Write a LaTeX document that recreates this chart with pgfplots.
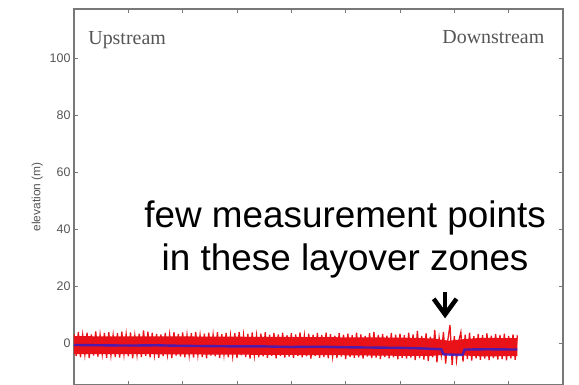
\documentclass[border=0pt]{standalone}
\usepackage{pgfplots}
\pgfplotsset{compat=1.18}
\usepackage{fontspec}
\setmainfont{Liberation Sans}
\newfontfamily\seriffont{Liberation Serif}
\definecolor{band}{RGB}{232,18,24}
\definecolor{mean}{RGB}{40,30,210}
\definecolor{frame}{RGB}{120,120,120}
\definecolor{lbl}{RGB}{85,85,85}
\begin{document}
\begin{tikzpicture}
\useasboundingbox (-74bp,0) rectangle (505bp,385bp);
\begin{axis}[
  at={(0,0)}, anchor=south west,
  scale only axis, width=489bp, height=376bp,
  xmin=0, xmax=9, ymin=-14.74, ymax=117.2,
  xtick={0,...,9}, xticklabels={},
  ytick={0,20,40,60,80,100},
  tick align=inside, major tick length=4bp,
  axis line style={draw=frame, line width=1.2bp},
  every tick/.style={draw=frame, line width=0.8bp},
  /pgf/number format/assume math mode=true,
  yticklabel style={font=\fontsize{12.5}{12.5}\selectfont, text=lbl},
  ylabel={elevation (m)},
  ylabel style={font=\fontsize{12}{12}\selectfont, text=lbl},
  clip=true,
]
% dense core of the elevation samples
\addplot[fill=band, draw=none] coordinates {
(0,2.4)(1,2.3)(2,2.3)(3,2.2)(4,2.1)(5,2.0)(6,1.9)(6.6,1.6)(6.9,0.8)(7.2,1.4)(7.5,1.8)(8.16,1.7)
(8.16,-4.6)(7.5,-4.7)(7.2,-4.4)(6.9,-4.0)(6.6,-4.5)(6,-4.5)(5,-4.3)(4,-4.2)(3,-4.1)(2,-4.0)(1,-3.9)(0,-3.9)
} -- cycle;
% individual elevation samples along the profile
\addplot[band, line width=1.3bp] coordinates {
(0.00,3.2)(0.04,-4.6)(0.08,3.9)(0.12,-5.0)(0.16,2.8)(0.20,-4.1)(0.24,3.6)(0.28,-5.3)(0.32,3.0)(0.36,-4.4)
(0.40,4.1)(0.44,-4.8)(0.48,2.9)(0.52,-3.9)(0.56,3.5)(0.60,-5.2)(0.64,3.8)(0.68,-4.3)(0.72,2.7)(0.76,-4.9)
(0.80,3.4)(0.84,-5.1)(0.88,4.0)(0.92,-4.0)(0.96,3.1)(1.00,-4.7)(1.04,3.7)(1.08,-5.4)(1.12,2.6)(1.16,-4.2)
(1.20,3.3)(1.24,-4.9)(1.28,4.4)(1.32,-4.5)(1.36,4.0)(1.40,-5.0)(1.44,3.6)(1.48,-4.1)(1.52,3.2)(1.56,-5.2)
(1.60,3.0)(1.64,-4.6)(1.68,3.5)(1.72,-4.0)(1.76,2.9)(1.80,-5.3)(1.84,3.8)(1.88,-4.4)(1.92,3.2)(1.96,-4.8)
(2.00,3.7)(2.04,-5.0)(2.08,2.8)(2.12,-4.3)(2.16,3.4)(2.20,-5.1)(2.24,3.9)(2.28,-4.2)(2.32,2.7)(2.36,-4.9)
(2.40,3.3)(2.44,-5.4)(2.48,3.6)(2.52,-4.4)(2.56,2.9)(2.60,-4.7)(2.64,3.8)(2.68,-5.2)(2.72,3.1)(2.76,-4.1)
(2.80,3.5)(2.84,-5.0)(2.88,2.6)(2.92,-4.6)(2.96,3.4)(3.00,-5.3)(3.04,3.9)(3.08,-4.3)(3.12,2.8)(3.16,-4.9)
(3.20,3.2)(3.24,-5.5)(3.28,3.7)(3.32,-4.4)(3.36,2.7)(3.40,-5.0)(3.44,3.3)(3.48,-4.7)(3.52,3.8)(3.56,-5.2)
(3.60,2.9)(3.64,-4.5)(3.68,3.5)(3.72,-5.4)(3.76,3.0)(3.80,-4.6)(3.84,3.6)(3.88,-5.1)(3.92,2.7)(3.96,-4.8)
(4.00,3.4)(4.04,-5.3)(4.08,3.0)(4.12,-4.5)(4.16,3.7)(4.20,-5.0)(4.24,2.6)(4.28,-4.7)(4.32,3.3)(4.36,-5.5)
(4.40,2.9)(4.44,-4.6)(4.48,3.5)(4.52,-5.2)(4.56,2.8)(4.60,-4.9)(4.64,3.6)(4.68,-5.4)(4.72,3.1)(4.76,-4.7)
(4.80,2.6)(4.84,-5.3)(4.88,3.4)(4.92,-4.8)(4.96,2.9)(5.00,-5.6)(5.04,3.3)(5.08,-4.9)(5.12,2.7)(5.16,-5.2)
(5.20,3.6)(5.24,-5.0)(5.28,3.0)(5.32,-5.5)(5.36,2.5)(5.40,-4.8)(5.44,3.4)(5.48,-5.3)(5.52,3.9)(5.56,-5.1)
(5.60,2.8)(5.64,-5.6)(5.68,3.2)(5.72,-4.9)(5.76,2.6)(5.80,-5.4)(5.84,3.5)(5.88,-5.0)(5.92,2.9)(5.96,-5.7)
(6.00,3.3)(6.04,-5.2)(6.08,2.7)(6.12,-5.5)(6.16,3.6)(6.20,-5.1)(6.24,3.0)(6.28,-6.0)(6.32,4.2)(6.36,-5.3)
(6.40,2.5)(6.44,-5.8)(6.48,3.4)(6.52,-6.3)(6.56,2.2)(6.60,-5.0)(6.64,4.6)(6.68,-6.8)(6.72,1.8)(6.76,-4.2)
(6.80,3.9)(6.84,-7.2)(6.88,1.0)(6.92,6.3)(6.96,-7.7)(7.00,2.4)(7.04,-6.1)(7.08,0.5)(7.12,3.8)(7.16,-6.5)
(7.20,2.9)(7.24,-5.6)(7.28,3.6)(7.32,-6.2)(7.36,2.4)(7.40,-5.4)(7.44,3.2)(7.48,-5.9)(7.52,2.7)(7.56,-5.5)
(7.60,3.4)(7.64,-6.0)(7.68,2.6)(7.72,-5.3)(7.76,3.1)(7.80,-5.8)(7.84,2.8)(7.88,-5.6)(7.92,3.3)(7.96,-6.1)
(8.00,2.5)(8.04,-5.4)(8.08,3.0)(8.12,-5.9)(8.16,2.7)
};
% smoothed profile
\addplot[mean, opacity=0.8, line width=2.4bp] coordinates {
(0,-0.7)(0.5,-0.8)(1,-0.9)(1.5,-0.8)(2,-1.0)(2.5,-1.1)(3,-1.2)(3.5,-1.2)(4,-1.4)(4.5,-1.3)
(5,-1.5)(5.5,-1.6)(6,-1.7)(6.4,-1.9)(6.76,-2.2)(6.80,-4.0)(7.15,-4.2)(7.19,-2.3)(7.6,-2.2)(8.16,-2.3)
};
\node[anchor=base west, text=lbl, font=\seriffont\fontsize{20}{20}\selectfont] at (axis cs:0.2,104.8) {Upstream};
\node[anchor=base east, text=lbl, font=\seriffont\fontsize{20}{20}\selectfont] at (axis cs:8.72,105.2) {Downstream};
\node[anchor=base, font=\fontsize{37}{37}\selectfont, inner sep=0pt] at (axis cs:4.99,40.7) {few measurement points};
\node[anchor=base, font=\fontsize{37}{37}\selectfont, inner sep=0pt] at (axis cs:4.99,25.3) {in these layover zones};
% annotation arrow
\draw[line width=4.5bp] (axis cs:6.83,17.9) -- (axis cs:6.83,11.0);
\draw[line width=4.5bp, miter limit=10] (axis cs:6.62,15.5) -- (axis cs:6.83,10.0) -- (axis cs:7.04,15.5);
\end{axis}
\end{tikzpicture}
\end{document}
